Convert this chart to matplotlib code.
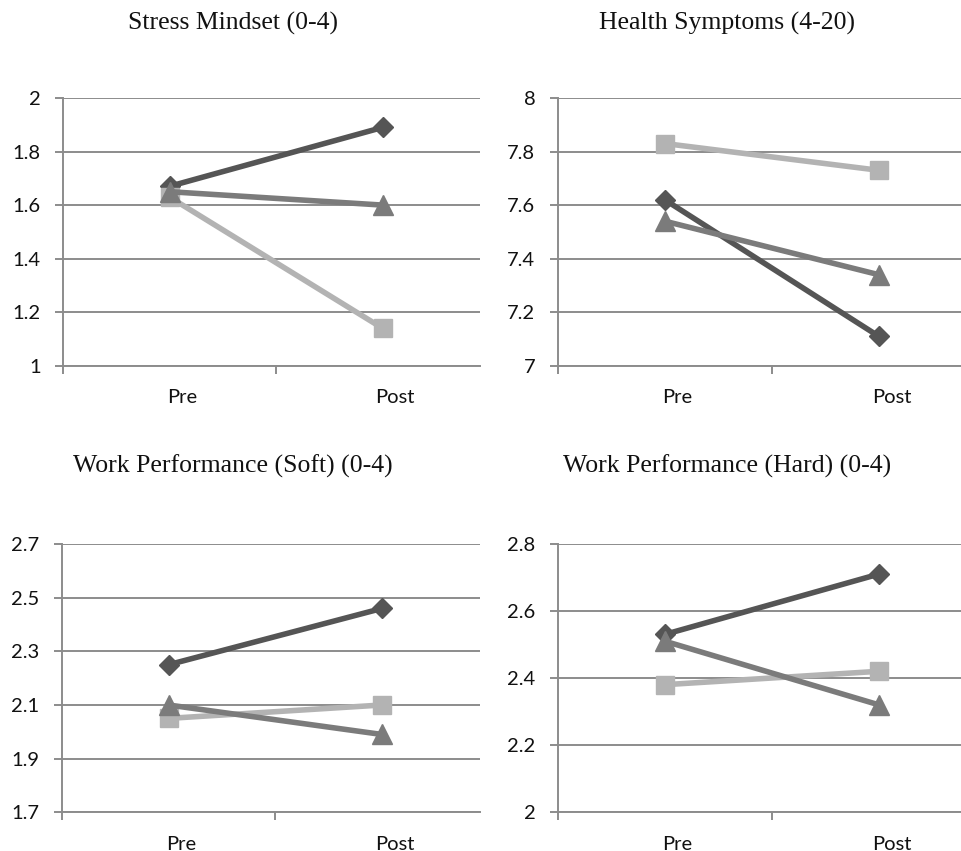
import matplotlib
matplotlib.use("Agg")
import matplotlib.pyplot as plt
import numpy as np

# ---- data ----
categories = ["Pre", "Post"]
titles = ["Stress Mindset (0-4)", "Health Symptoms (4-20)",
          "Work Performance (Soft) (0-4)", "Work Performance (Hard) (0-4)"]

# series: diamond (dark), square (light), triangle (mid)
stress_diamond = [1.67, 1.89]
stress_square = [1.63, 1.14]
stress_triangle = [1.65, 1.60]

health_diamond = [7.62, 7.11]
health_square = [7.83, 7.73]
health_triangle = [7.54, 7.34]

soft_diamond = [2.25, 2.46]
soft_square = [2.05, 2.10]
soft_triangle = [2.10, 1.99]

hard_diamond = [2.53, 2.71]
hard_square = [2.38, 2.42]
hard_triangle = [2.51, 2.32]

yticks_stress = [1, 1.2, 1.4, 1.6, 1.8, 2]
yticks_health = [7, 7.2, 7.4, 7.6, 7.8, 8]
yticks_soft = [1.7, 1.9, 2.1, 2.3, 2.5, 2.7]
yticks_hard = [2, 2.2, 2.4, 2.6, 2.8]

# ---- styling ----
W, H = 961, 851
fig = plt.figure(figsize=(W / 100, H / 100), dpi=100)
TICK_FONT = ["Lato", "DejaVu Sans"]
TITLE_FONT = ["Liberation Serif", "DejaVu Serif"]
GRID = "#8c8c8c"
C_DIAMOND = "#555555"
C_SQUARE = "#b3b3b3"
C_TRIANGLE = "#7b7b7b"

def px_axes(left, right, top, bottom):
    return [left / W, 1 - bottom / H, (right - left) / W, (bottom - top) / H]

panels = [
    dict(rect=px_axes(63, 480, 98, 365.7), unit=213, ticks=yticks_stress,
         d=stress_diamond, s=stress_square, t=stress_triangle, fmt="{:g}",
         title=titles[0], tx=233, ty=23),
    dict(rect=px_axes(557.7, 961, 98, 365.7), unit=214, ticks=yticks_health,
         d=health_diamond, s=health_square, t=health_triangle, fmt="{:g}",
         title=titles[1], tx=727, ty=23),
    dict(rect=px_axes(61.7, 480, 544, 812.3), unit=213.6, ticks=yticks_soft,
         d=soft_diamond, s=soft_square, t=soft_triangle, fmt="{:.1f}",
         title=titles[2], tx=233, ty=466),
    dict(rect=px_axes(557.7, 961, 544, 812), unit=214, ticks=yticks_hard,
         d=hard_diamond, s=hard_square, t=hard_triangle, fmt="{:g}",
         title=titles[3], tx=727, ty=466),
]

x = np.arange(len(categories))
for p in panels:
    ax = fig.add_axes(p["rect"])
    width_px = p["rect"][2] * W

    ax.plot(x, p["d"], color=C_DIAMOND, lw=4, marker="D", ms=10.5,
            mec=C_DIAMOND, mfc=C_DIAMOND, zorder=3, clip_on=False)
    ax.plot(x, p["s"], color=C_SQUARE, lw=4, marker="s", ms=13,
            mec=C_SQUARE, mfc=C_SQUARE, zorder=4, clip_on=False)
    ax.plot(x, p["t"], color=C_TRIANGLE, lw=4, marker="^", ms=14,
            mec=C_TRIANGLE, mfc=C_TRIANGLE, zorder=5, clip_on=False)

    for sp in ["top", "right"]:
        ax.spines[sp].set_visible(False)
    for sp in ["left", "bottom"]:
        ax.spines[sp].set_color(GRID)
        ax.spines[sp].set_linewidth(1.4)

    ax.set_yticks(p["ticks"])
    ax.set_yticklabels([p["fmt"].format(v) for v in p["ticks"]],
                       fontfamily=TICK_FONT, fontsize=14.5, color="#111111")
    ax.tick_params(axis="y", length=6, width=1.4, color=GRID, pad=10)
    ax.yaxis.grid(True, color=GRID, lw=1.4)
    ax.set_axisbelow(True)

    ax.set_xticks([-0.5, 0.5, 1.5])
    ax.set_xticklabels(["", "", ""])
    ax.tick_params(axis="x", which="major", length=6, width=1.4, color=GRID)
    ax.set_xticks(x + 0.06, minor=True)
    ax.set_xticklabels(categories, minor=True, fontfamily=TICK_FONT,
                       fontsize=14.5, color="#111111")
    ax.tick_params(axis="x", which="minor", length=0, pad=17)

    # limits set after ticks so the ticks do not widen them
    ax.set_xlim(-0.5, -0.5 + width_px / p["unit"])
    ax.set_ylim(p["ticks"][0], p["ticks"][-1])

    fig.text(p["tx"] / W, 1 - p["ty"] / H, p["title"], ha="center",
             va="center", fontfamily=TITLE_FONT, fontsize=18.5, color="#111111")

fig.savefig("out.png", dpi=100, facecolor="white")
